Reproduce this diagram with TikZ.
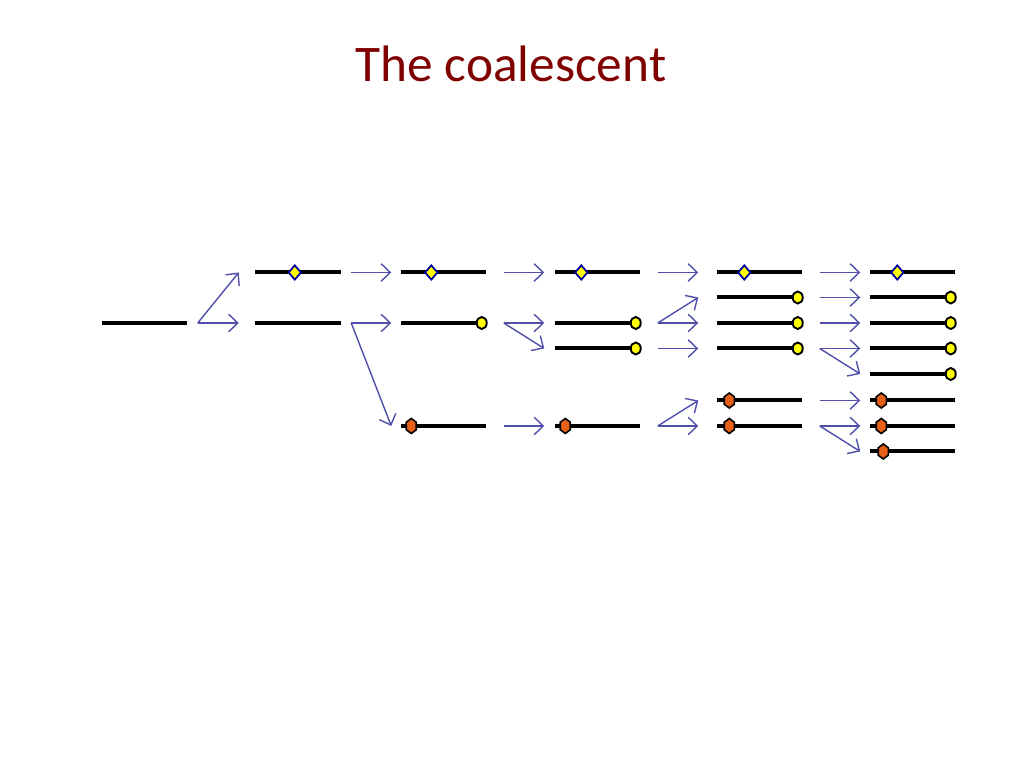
\documentclass[tikz,border=0pt]{standalone}
\usepackage{fontspec}
\setmainfont{Carlito}
\usetikzlibrary{arrows.meta,shapes.geometric}
\definecolor{titlered}{RGB}{128,0,0}
\definecolor{arrblue}{RGB}{80,80,170}
\definecolor{mkyellow}{RGB}{255,255,0}
\definecolor{mkorange}{RGB}{232,96,24}
\definecolor{mkblue}{RGB}{0,0,160}

\begin{document}
\begin{tikzpicture}[x=0.01cm,y=-0.01cm,
        seg/.style={fill=black,inner sep=0pt,minimum width=0.85cm,minimum height=0.04cm},
        arr/.style={arrblue,line width=0.4pt,-{Straight Barb[length=2.6pt,width=5pt]}},
        dmd/.style={diamond,fill=mkyellow,draw=mkblue,line width=0.5pt,inner sep=0pt,minimum width=0.13cm,minimum height=0.15cm},
        crc/.style={ellipse,fill=mkyellow,draw=black,line width=0.55pt,inner sep=0pt,minimum width=0.10cm,minimum height=0.12cm},
        hex/.style={regular polygon,regular polygon sides=6,shape border rotate=90,xscale=0.77,fill=mkorange,draw=black,line width=0.45pt,inner sep=0pt,minimum size=0.15cm}]

        \useasboundingbox[fill=white] (0,0) rectangle (1024,768);

        \node[titlered,font=\fontsize{14.6}{17}\selectfont,anchor=base] (title) at (511,82) {The coalescent};

        % generation 0
        \node[seg] (a0) at (144.5,323) {};

        % generation 1
        \node[seg] (b1) at (298,272.5) {};
        \node[seg] (b2) at (298,323) {};
        \node[dmd] (mb1) at ([xshift=0.40cm]b1.west) {};

        % generation 2
        \node[seg] (c1) at (443.5,272.5) {};
        \node[seg] (c2) at (443.5,323) {};
        \node[seg] (c3) at (443.5,426) {};
        \node[dmd] (mc1) at ([xshift=0.31cm]c1.west) {};
        \node[crc] (mc2) at ([xshift=-0.05cm]c2.east) {};
        \node[hex] (mc3) at ([xshift=0.11cm]c3.west) {};

        % generation 3
        \node[seg] (d1) at (597.5,272.5) {};
        \node[seg] (d2) at (597.5,323) {};
        \node[seg] (d3) at (597.5,348.5) {};
        \node[seg] (d4) at (597.5,426) {};
        \node[dmd] (md1) at ([xshift=0.27cm]d1.west) {};
        \node[crc] (md2) at ([xshift=-0.05cm]d2.east) {};
        \node[crc] (md3) at ([xshift=-0.05cm]d3.east) {};
        \node[hex] (md4) at ([xshift=0.11cm]d4.west) {};

        % generation 4
        \node[seg] (e1) at (759.5,272.5) {};
        \node[seg] (e2) at (759.5,297.5) {};
        \node[seg] (e3) at (759.5,323) {};
        \node[seg] (e4) at (759.5,348.5) {};
        \node[seg] (e5) at (759.5,400.5) {};
        \node[seg] (e6) at (759.5,426) {};
        \node[dmd] (me1) at ([xshift=0.28cm]e1.west) {};
        \node[crc] (me2) at ([xshift=-0.05cm]e2.east) {};
        \node[crc] (me3) at ([xshift=-0.05cm]e3.east) {};
        \node[crc] (me4) at ([xshift=-0.05cm]e4.east) {};
        \node[hex] (me5) at ([xshift=0.13cm]e5.west) {};
        \node[hex] (me6) at ([xshift=0.13cm]e6.west) {};

        % generation 5
        \node[seg] (f1) at (912.5,272.5) {};
        \node[seg] (f2) at (912.5,297.5) {};
        \node[seg] (f3) at (912.5,323) {};
        \node[seg] (f4) at (912.5,348.5) {};
        \node[seg] (f5) at (912.5,374) {};
        \node[seg] (f6) at (912.5,400.5) {};
        \node[seg] (f7) at (912.5,426) {};
        \node[seg] (f8) at (912.5,451.5) {};
        \node[dmd] (mf1) at ([xshift=0.28cm]f1.west) {};
        \node[crc] (mf2) at ([xshift=-0.05cm]f2.east) {};
        \node[crc] (mf3) at ([xshift=-0.05cm]f3.east) {};
        \node[crc] (mf4) at ([xshift=-0.05cm]f4.east) {};
        \node[crc] (mf5) at ([xshift=-0.05cm]f5.east) {};
        \node[hex] (mf6) at ([xshift=0.12cm]f6.west) {};
        \node[hex] (mf7) at ([xshift=0.12cm]f7.west) {};
        \node[hex] (mf8) at ([xshift=0.14cm]f8.west) {};

        % descent arrows
        \draw[arr] ([xshift=0.10cm]a0.east) -- ([xshift=-0.16cm]b1.west);
        \draw[arr] ([xshift=0.10cm]a0.east) -- ([xshift=-0.16cm]b2.west);

        \draw[arr] ([xshift=0.10cm]b1.east) -- ([xshift=-0.09cm]c1.west);
        \draw[arr] ([xshift=0.10cm]b2.east) -- ([xshift=-0.09cm]c2.west);
        \draw[arr] ([xshift=0.10cm]b2.east) -- ([xshift=-0.09cm]c3.west);

        \draw[arr] ([xshift=0.17cm]c1.east) -- ([xshift=-0.10cm]d1.west);
        \draw[arr] ([xshift=0.17cm]c2.east) -- ([xshift=-0.10cm]d2.west);
        \draw[arr] ([xshift=0.17cm]c2.east) -- ([xshift=-0.10cm]d3.west);
        \draw[arr] ([xshift=0.17cm]c3.east) -- ([xshift=-0.10cm]d4.west);

        \draw[arr] ([xshift=0.17cm]d1.east) -- ([xshift=-0.18cm]e1.west);
        \draw[arr] ([xshift=0.17cm]d2.east) -- ([xshift=-0.18cm]e2.west);
        \draw[arr] ([xshift=0.17cm]d2.east) -- ([xshift=-0.18cm]e3.west);
        \draw[arr] ([xshift=0.17cm]d3.east) -- ([xshift=-0.18cm]e4.west);
        \draw[arr] ([xshift=0.17cm]d4.east) -- ([xshift=-0.18cm]e5.west);
        \draw[arr] ([xshift=0.17cm]d4.east) -- ([xshift=-0.18cm]e6.west);

        \draw[arr] ([xshift=0.17cm]e1.east) -- ([xshift=-0.09cm]f1.west);
        \draw[arr] ([xshift=0.17cm]e2.east) -- ([xshift=-0.09cm]f2.west);
        \draw[arr] ([xshift=0.17cm]e3.east) -- ([xshift=-0.09cm]f3.west);
        \draw[arr] ([xshift=0.17cm]e4.east) -- ([xshift=-0.09cm]f4.west);
        \draw[arr] ([xshift=0.17cm]e4.east) -- ([xshift=-0.09cm]f5.west);
        \draw[arr] ([xshift=0.17cm]e5.east) -- ([xshift=-0.09cm]f6.west);
        \draw[arr] ([xshift=0.17cm]e6.east) -- ([xshift=-0.09cm]f7.west);
        \draw[arr] ([xshift=0.17cm]e6.east) -- ([xshift=-0.09cm]f8.west);

\end{tikzpicture}
\end{document}
